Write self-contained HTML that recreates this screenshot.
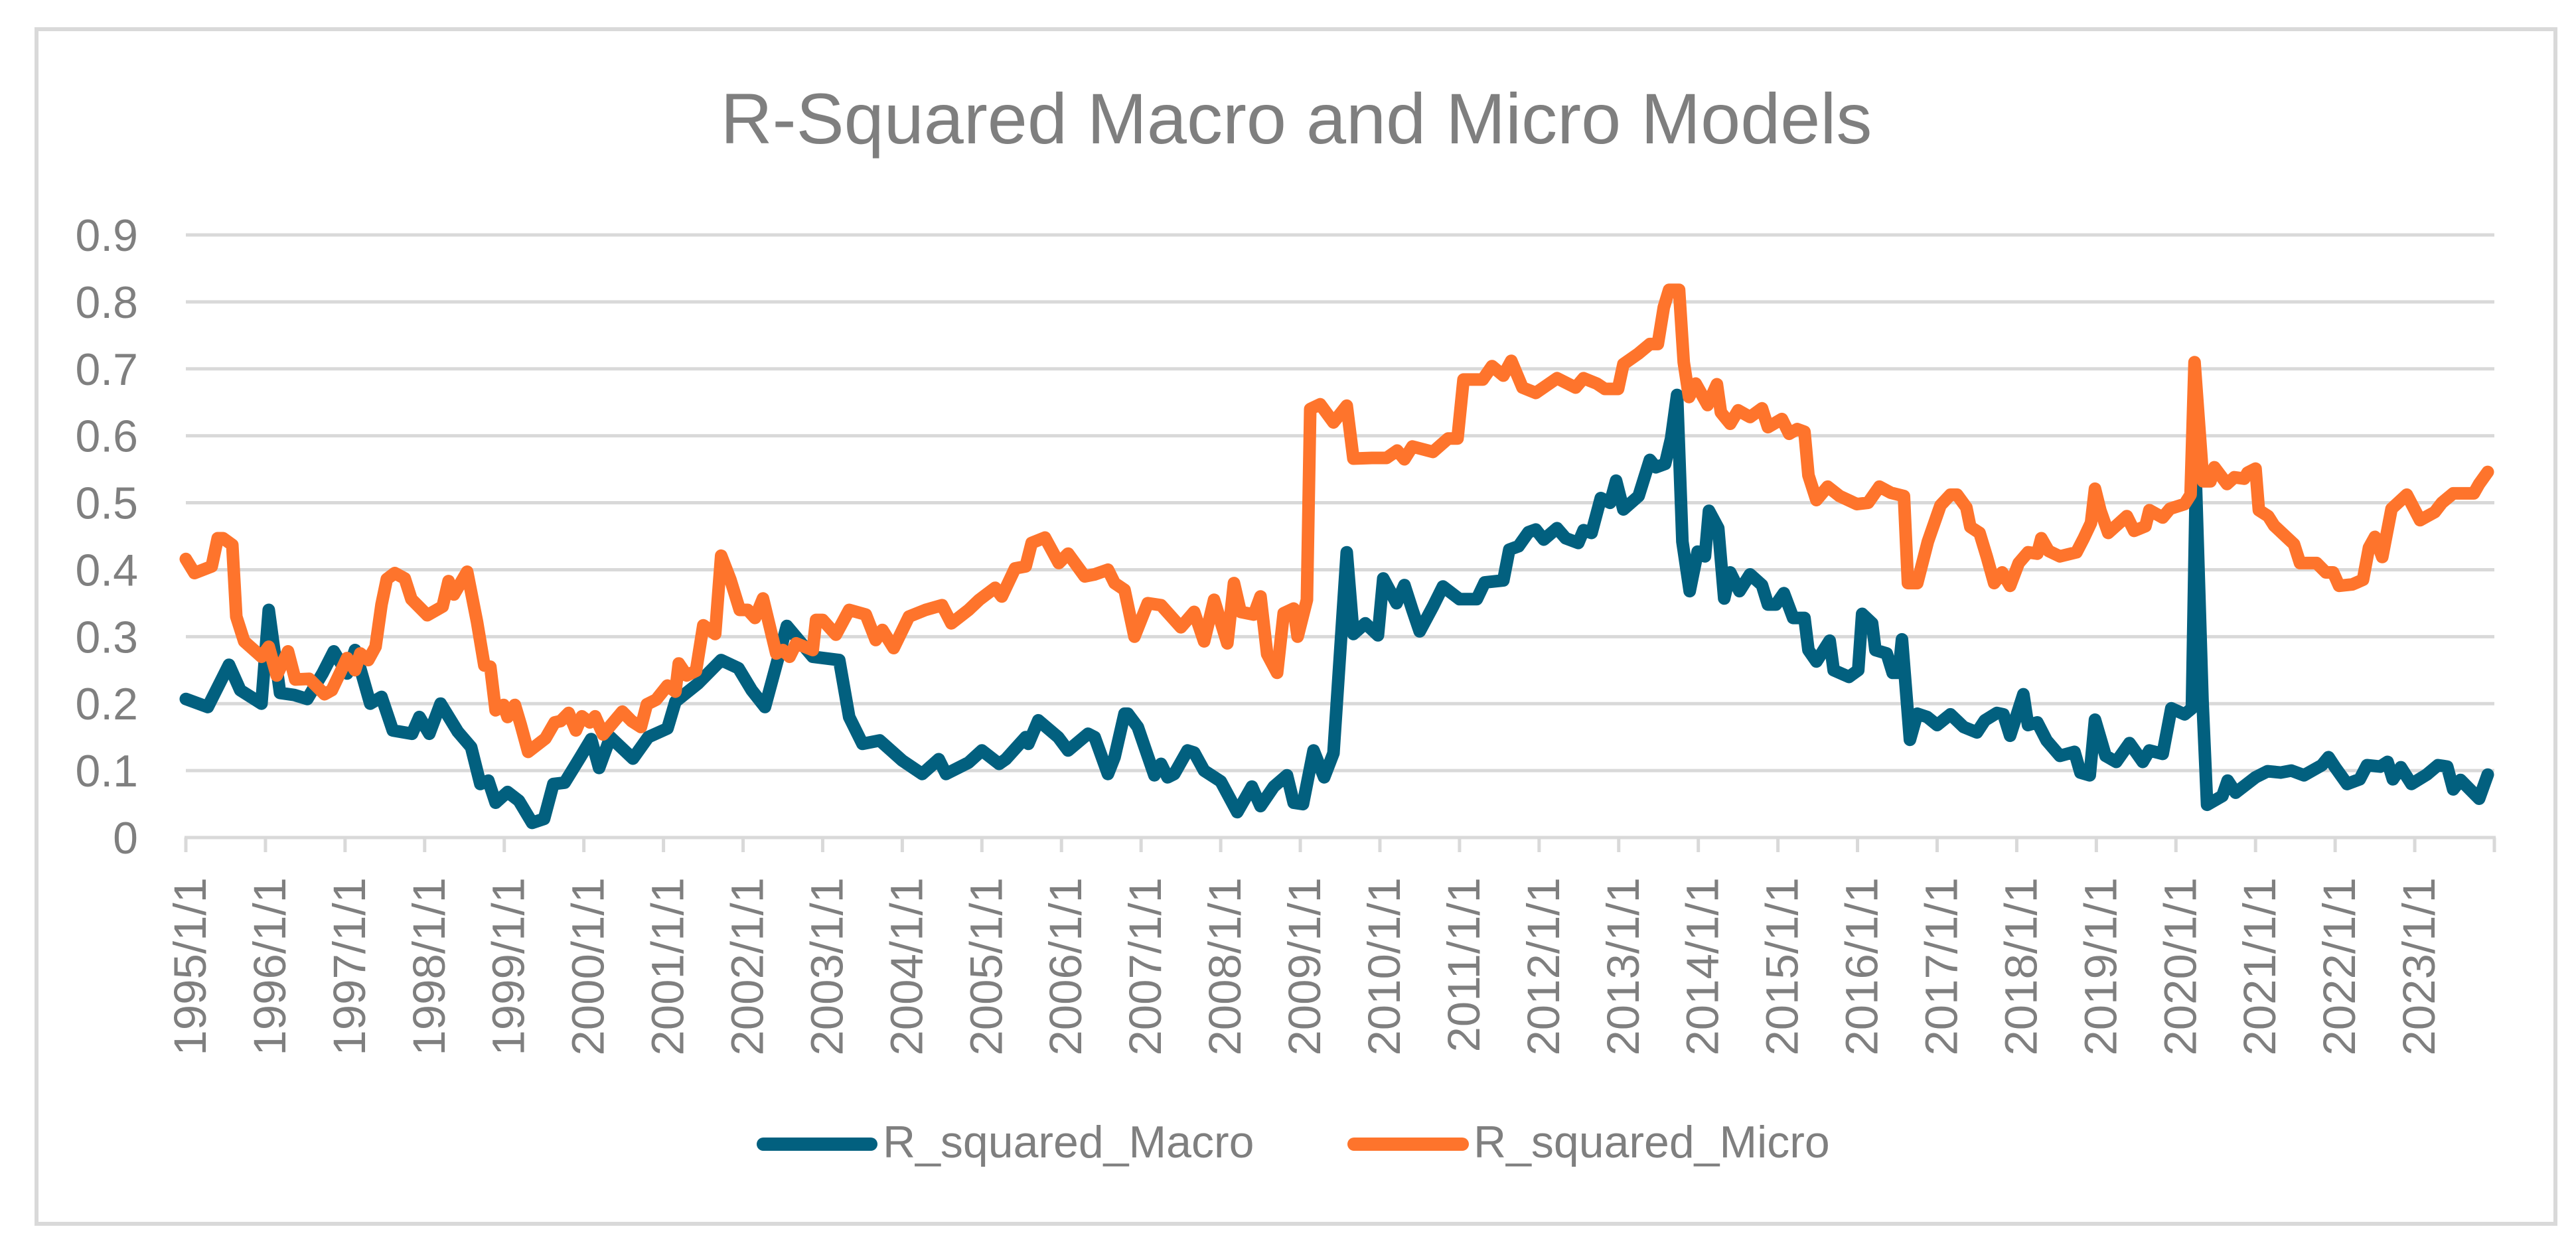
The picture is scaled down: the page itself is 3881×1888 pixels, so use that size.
<!DOCTYPE html>
<html>
<head>
<meta charset="utf-8">
<style>
  html, body { margin: 0; padding: 0; background: #ffffff; }
  svg { display: block; }
  text { font-family: "Liberation Sans", Arial, sans-serif; fill: #7f7f7f; }
</style>
</head>
<body>
<svg id="chart" width="3881" height="1888" viewBox="0 0 3881 1888" xmlns="http://www.w3.org/2000/svg">
  <rect x="0" y="0" width="3881" height="1888" fill="#ffffff"/>
  <rect x="55" y="44" width="3795" height="1800" fill="none" stroke="#d9d9d9" stroke-width="6"/>
  <text x="1953" y="216" text-anchor="middle" font-size="108">R-Squared Macro and Micro Models</text>
  <g id="grid"></g>
  <g id="yaxis"></g>
  <g id="xaxis"></g>
  <g id="series"></g>
  <g>
    <g>
      <line x1="1150" y1="1724" x2="1312" y2="1724" stroke="#02607f" stroke-width="20" stroke-linecap="round"/>
      <text x="1330" y="1744" font-size="68">R_squared_Macro</text>
    </g>
    <g>
      <line x1="2040" y1="1724" x2="2203" y2="1724" stroke="#fe742c" stroke-width="20" stroke-linecap="round"/>
      <text x="2220" y="1744" font-size="68">R_squared_Micro</text>
    </g>
  </g>
</svg>
<script>
const yTicks = [0, 0.1, 0.2, 0.3, 0.4, 0.5, 0.6, 0.7, 0.8, 0.9];
const yTickLabels = ["0", "0.1", "0.2", "0.3", "0.4", "0.5", "0.6", "0.7", "0.8", "0.9"];
const xTickLabels = ["1995/1/1","1996/1/1","1997/1/1","1998/1/1","1999/1/1","2000/1/1","2001/1/1","2002/1/1","2003/1/1","2004/1/1","2005/1/1","2006/1/1","2007/1/1","2008/1/1","2009/1/1","2010/1/1","2011/1/1","2012/1/1","2013/1/1","2014/1/1","2015/1/1","2016/1/1","2017/1/1","2018/1/1","2019/1/1","2020/1/1","2021/1/1","2022/1/1","2023/1/1"];
const totalMonths = 348;

// month index (0 = 1995/1) and value for each series
const macroMonths = [0,3.3,6.5,8.2,11.4,12.5,14.2,16.3,18.3,20.6,22.3,24.3,25.5,27.8,29.5,31.2,34.1,35.2,36.7,38.4,41,43,44.4,45.6,46.7,48.5,50.2,52.2,54,55.4,57.1,59.4,61.1,62.3,64,67.4,69.7,72.6,73.8,77.2,80.7,83.3,85.3,87.3,90.6,94.5,98.5,100,102,104.6,108,111,113.5,114.6,118,120,122.6,123.6,126.6,127,128.5,131.5,133,136,137,139,140,141.5,142,143.5,146,147,148,149,151,152,153.5,156,158.5,160.7,162,164,166,167,168.4,170,171.6,173,175,176,177.8,179.7,180.5,182.5,183.7,184.9,186,188,189.5,192,194.6,195.8,198.6,199.5,200.9,202.4,203.5,204.7,206.7,208,209.9,210.7,211.9,213.3,214.7,215.6,216.7,219,220.7,221.6,223,223.9,224.8,225.6,226.7,227.9,229,229.6,231,231.9,232.8,234.2,235.8,237.6,238.5,239.7,240.9,242.3,244,244.6,245.8,247.8,248.4,250.7,252.1,252.7,254.2,254.7,256.4,257.3,258.2,258.7,259.9,261,262.5,264,266,268,270,271.2,273,274,275,277,277.7,279.1,280.5,282.5,284.7,285.6,287,287.8,289.4,291,293,295,296,298,299.3,301.3,302.4,303,304,304.7,307,307.8,309,312,313.8,315.8,317.4,319.3,322,323,324,325.8,327.7,328.8,330.8,331.9,332.7,333.9,335.5,337.8,339.5,340.9,341.8,342.9,345.7,347];
const macroValues = [0.207,0.195,0.258,0.22,0.2,0.34,0.216,0.213,0.207,0.245,0.278,0.245,0.28,0.2,0.21,0.16,0.155,0.18,0.155,0.2,0.158,0.135,0.08,0.085,0.052,0.068,0.055,0.022,0.028,0.08,0.082,0.119,0.147,0.104,0.15,0.118,0.15,0.163,0.203,0.23,0.265,0.253,0.22,0.195,0.316,0.27,0.265,0.18,0.14,0.145,0.115,0.095,0.117,0.095,0.112,0.13,0.11,0.117,0.15,0.14,0.175,0.15,0.13,0.155,0.15,0.095,0.12,0.185,0.185,0.165,0.093,0.11,0.09,0.095,0.13,0.127,0.1,0.084,0.038,0.076,0.047,0.076,0.093,0.052,0.05,0.13,0.09,0.126,0.426,0.304,0.32,0.302,0.387,0.35,0.377,0.34,0.308,0.345,0.375,0.356,0.356,0.381,0.384,0.43,0.435,0.456,0.46,0.445,0.462,0.447,0.44,0.459,0.455,0.507,0.5,0.533,0.49,0.51,0.564,0.553,0.558,0.596,0.661,0.442,0.368,0.427,0.42,0.488,0.462,0.357,0.396,0.368,0.393,0.377,0.348,0.348,0.365,0.328,0.328,0.28,0.263,0.294,0.25,0.24,0.25,0.334,0.32,0.28,0.275,0.246,0.246,0.296,0.146,0.185,0.18,0.168,0.184,0.165,0.157,0.175,0.186,0.184,0.152,0.214,0.168,0.172,0.145,0.122,0.128,0.097,0.093,0.176,0.122,0.113,0.141,0.113,0.13,0.125,0.193,0.184,0.193,0.53,0.205,0.049,0.062,0.085,0.067,0.09,0.099,0.097,0.1,0.093,0.108,0.12,0.105,0.08,0.087,0.108,0.106,0.113,0.087,0.105,0.08,0.094,0.108,0.106,0.072,0.086,0.058,0.094];

const microMonths = [0,1.3,3.9,4.8,5.6,7,7.6,8.8,10.5,11.4,12.5,13.7,15.4,16.5,18.6,20.9,22,24.3,25.5,26.3,27.5,28.6,29.5,30.3,31.5,33,34,36.4,38.7,39.6,40.4,42.4,43.9,45,45.9,46.7,47.9,48.5,49.6,50.5,51.6,54.2,55.6,56.5,57.7,58.8,59.7,60.9,61.7,62.9,65.8,67.2,68.6,69.5,70.9,72.6,73.8,74.3,75.5,76.9,78,79.8,80.7,82.1,83.5,84.7,85.8,87,89,90,91,92,94.5,95,96,98,100,102.5,104,105,106.7,109,111.5,114,115.4,118,119.6,122,123,125,126.6,127.5,129.5,131.6,133,135.5,137,139,140,141.5,143,145,147,150,152,153.5,155,157,158,159,161,162,163,164.5,165.5,167,167.6,169,169.5,171,173,175,176,178.8,181,182.6,183.7,184.9,188,190.3,191.7,192.6,195.5,196.9,198.6,199.8,201.5,203.5,206.7,209.5,210.7,212.7,213.9,215.9,216.7,219,220.7,221.9,222.8,223.6,225.1,225.8,226.6,227.6,229.4,230.8,231.4,232.8,234,235.8,237.6,238.5,240.6,241.7,242.9,244,244.6,245.8,247.5,249.3,251.9,253.6,255.3,257,259,259.6,261,262.6,264.5,266,267,268.4,269,270.4,271.5,272.6,273.8,275,276.3,277.7,279.1,279.7,280.8,282.5,285,286.1,287.2,287.8,288.6,289.8,292.6,293.7,295.4,296,298,299.1,301.3,302.2,302.8,304.1,305.2,305.8,307.7,308.8,310.3,310.8,312,312.5,313.9,314.8,317.8,318.7,321.2,322.6,323.7,324.6,326.6,328.2,329.1,330,331.1,332.5,334.8,336.8,337.9,339,340.1,341.8,344.9,345.7,347];
const microValues = [0.416,0.395,0.405,0.447,0.447,0.437,0.33,0.293,0.278,0.27,0.285,0.242,0.278,0.236,0.237,0.214,0.22,0.268,0.25,0.275,0.265,0.285,0.348,0.386,0.395,0.387,0.356,0.332,0.345,0.383,0.363,0.397,0.322,0.257,0.255,0.19,0.198,0.18,0.198,0.168,0.128,0.148,0.172,0.174,0.186,0.16,0.181,0.172,0.181,0.154,0.188,0.174,0.165,0.199,0.206,0.227,0.218,0.26,0.242,0.249,0.317,0.304,0.421,0.385,0.34,0.34,0.328,0.357,0.275,0.28,0.27,0.29,0.28,0.325,0.325,0.303,0.34,0.333,0.295,0.31,0.283,0.33,0.34,0.347,0.32,0.34,0.355,0.373,0.36,0.402,0.405,0.44,0.448,0.41,0.424,0.39,0.393,0.4,0.38,0.37,0.3,0.35,0.347,0.314,0.337,0.293,0.355,0.29,0.38,0.337,0.333,0.36,0.274,0.246,0.335,0.342,0.3,0.355,0.64,0.647,0.62,0.645,0.566,0.567,0.567,0.578,0.565,0.584,0.576,0.596,0.596,0.684,0.684,0.704,0.69,0.712,0.672,0.664,0.686,0.672,0.686,0.678,0.67,0.67,0.707,0.723,0.737,0.737,0.792,0.818,0.818,0.71,0.658,0.678,0.646,0.677,0.635,0.618,0.638,0.628,0.641,0.613,0.625,0.603,0.61,0.606,0.541,0.504,0.524,0.51,0.498,0.5,0.524,0.515,0.51,0.38,0.38,0.442,0.496,0.512,0.512,0.493,0.464,0.455,0.419,0.38,0.396,0.376,0.41,0.426,0.424,0.447,0.428,0.42,0.426,0.447,0.47,0.521,0.489,0.455,0.48,0.458,0.465,0.489,0.478,0.491,0.498,0.512,0.71,0.532,0.532,0.553,0.528,0.538,0.536,0.545,0.551,0.489,0.48,0.466,0.438,0.41,0.41,0.396,0.396,0.376,0.378,0.385,0.433,0.449,0.419,0.491,0.512,0.474,0.48,0.486,0.5,0.514,0.514,0.528,0.546];

const NS = "http://www.w3.org/2000/svg";
const plotLeft = 280, plotRight = 3758, yZero = 1262, yTop = 354;
function xScale(m) { return plotLeft + m * (plotRight - plotLeft) / totalMonths; }
function yScale(v) { return yZero - (v / 0.9) * (yZero - yTop); }

const grid = document.getElementById('grid');
const yaxis = document.getElementById('yaxis');
const xaxis = document.getElementById('xaxis');
const series = document.getElementById('series');

yTicks.forEach(function (t, i) {
  const y = yScale(t);
  if (i > 0) {
    const ln = document.createElementNS(NS, 'line');
    ln.setAttribute('x1', plotLeft); ln.setAttribute('x2', plotRight);
    ln.setAttribute('y1', y); ln.setAttribute('y2', y);
    ln.setAttribute('stroke', '#d9d9d9'); ln.setAttribute('stroke-width', '5');
    
    
    grid.appendChild(ln);
  }
  const tx = document.createElementNS(NS, 'text');
  tx.setAttribute('x', 208); tx.setAttribute('y', y + 24);
  tx.setAttribute('text-anchor', 'end'); tx.setAttribute('font-size', '68');
  tx.textContent = yTickLabels[i];
  
  
  yaxis.appendChild(tx);
});

const axisLine = document.createElementNS(NS, 'line');
axisLine.setAttribute('x1', plotLeft - 2); axisLine.setAttribute('x2', plotRight + 2);
axisLine.setAttribute('y1', yZero); axisLine.setAttribute('y2', yZero);
axisLine.setAttribute('stroke', '#d9d9d9'); axisLine.setAttribute('stroke-width', '5');


xaxis.appendChild(axisLine);

for (let i = 0; i <= xTickLabels.length; i++) {
  const x = xScale(i * 12);
  const tk = document.createElementNS(NS, 'line');
  tk.setAttribute('x1', x); tk.setAttribute('x2', x);
  tk.setAttribute('y1', yZero); tk.setAttribute('y2', yZero + 22);
  tk.setAttribute('stroke', '#d9d9d9'); tk.setAttribute('stroke-width', '5');
  
  
  xaxis.appendChild(tk);
  if (i < xTickLabels.length) {
    const tx = document.createElementNS(NS, 'text');
    const bx = x + 30, by = 1322;
    tx.setAttribute('x', bx); tx.setAttribute('y', by);
    tx.setAttribute('transform', 'rotate(-90 ' + bx + ' ' + by + ')');
    tx.setAttribute('text-anchor', 'end'); tx.setAttribute('font-size', '69');
    tx.textContent = xTickLabels[i];
    
    
    xaxis.appendChild(tx);
  }
}

function drawSeries(months, values, color, name) {
  let d = '';
  for (let i = 0; i < months.length; i++) {
    d += (i === 0 ? 'M' : 'L') + xScale(months[i]).toFixed(1) + ' ' + yScale(values[i]).toFixed(1) + ' ';
  }
  const p = document.createElementNS(NS, 'path');
  p.setAttribute('d', d);
  p.setAttribute('fill', 'none');
  p.setAttribute('stroke', color);
  p.setAttribute('stroke-width', '19');
  p.setAttribute('stroke-linejoin', 'round');
  p.setAttribute('stroke-linecap', 'round');
  
  
  series.appendChild(p);
}
drawSeries(macroMonths, macroValues, '#02607f', 'line-r-squared-macro');
drawSeries(microMonths, microValues, '#fe742c', 'line-r-squared-micro');
</script>
</body>
</html>
